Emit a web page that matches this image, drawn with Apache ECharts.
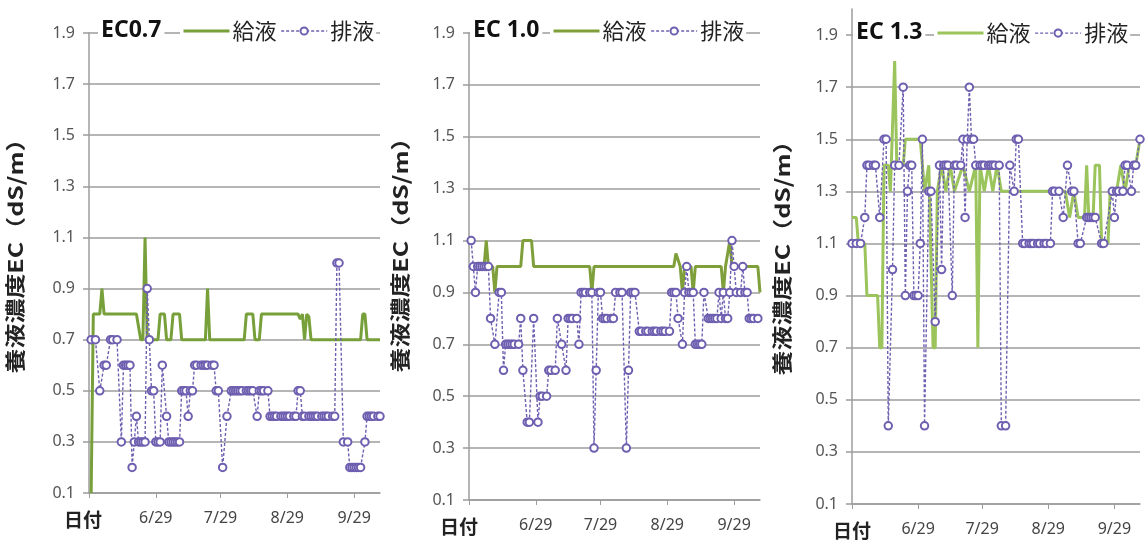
<!DOCTYPE html>
<html><head><meta charset="utf-8">
<script src="https://cdn.jsdelivr.net/npm/echarts@6/dist/echarts.min.js"></script>
<style>html,body{margin:0;padding:0;background:#fff}#c{width:1147px;height:550px}</style>
</head><body><div id="c"></div>
<script>
// ---- data (x = days after 5/29) ----
const tickDays = [0, 31, 61, 92, 123];
const tickLabels = ['日付', '6/29', '7/29', '8/29', '9/29'];
const yTicks = [0.1, 0.3, 0.5, 0.7, 0.9, 1.1, 1.3, 1.5, 1.7, 1.9];
const panelTitles = ['EC0.7', 'EC 1.0', 'EC 1.3'];
const seriesNames = ['給液', '排液'];
const yAxisName = '養液濃度EC（dS/m）';

// Panel 1 : EC0.7
const p1SupplyDays = [1,2,5,6,7,22,24,25,26,27,32,33,35,36,38,39,42,43,54,55,56,72,73,76,77,79,80,97,98,99,100,101,102,103,104,126,127,128,129,135];
const p1SupplyVals = [0.1,0.8,0.8,0.9,0.8,0.8,0.7,0.7,1.1,0.7,0.7,0.8,0.8,0.7,0.7,0.8,0.8,0.7,0.7,0.9,0.7,0.7,0.8,0.8,0.7,0.7,0.8,0.8,0.78,0.8,0.7,0.8,0.79,0.7,0.7,0.7,0.8,0.8,0.7,0.7];
const p1DrainDays = [1,3,5,7,8,10,11,13,15,16,17,18,19,20,21,22,23,24,25,26,27,28,29,30,31,32,33,34,36,37,38,39,40,41,42,43,44,45,46,47,48,49,50,52,53,54,55,57,58,59,60,62,64,66,67,68,69,70,71,73,74,75,76,78,79,80,81,83,84,85,86,87,89,90,91,92,93,95,96,97,98,99,100,102,103,104,105,106,108,109,110,111,113,114,115,116,118,120,121,122,123,124,125,126,128,129,130,131,132,134,135];
const p1DrainVals = [0.7,0.7,0.5,0.6,0.6,0.7,0.7,0.7,0.3,0.6,0.6,0.6,0.6,0.2,0.3,0.4,0.3,0.3,0.3,0.3,0.9,0.7,0.5,0.5,0.3,0.3,0.3,0.6,0.4,0.3,0.3,0.3,0.3,0.3,0.3,0.5,0.5,0.5,0.4,0.5,0.5,0.6,0.6,0.6,0.6,0.6,0.6,0.6,0.6,0.5,0.5,0.2,0.4,0.5,0.5,0.5,0.5,0.5,0.5,0.5,0.5,0.5,0.5,0.4,0.5,0.5,0.5,0.5,0.4,0.4,0.4,0.4,0.4,0.4,0.4,0.4,0.4,0.4,0.4,0.5,0.5,0.4,0.4,0.4,0.4,0.4,0.4,0.4,0.4,0.4,0.4,0.4,0.4,0.4,1.0,1.0,0.3,0.3,0.2,0.2,0.2,0.2,0.2,0.2,0.3,0.4,0.4,0.4,0.4,0.4,0.4];

// Panel 2 : EC 1.0
const p2SupplyDays = [0,7,8,9,11,12,13,24,25,29,30,56,57,58,95,96,98,99,100,103,104,105,117,118,119,121,122,134,135];
const p2SupplyVals = [1.0,1.0,1.1,1.0,1.0,0.9,1.0,1.0,1.1,1.1,1.0,1.0,0.9,1.0,1.0,1.05,1.0,0.9,1.0,1.0,0.9,1.0,1.0,0.9,1.0,1.1,1.0,1.0,0.9];
const p2DrainDays = [1,2,3,4,5,6,7,8,9,10,12,14,15,16,17,18,19,20,21,23,24,25,27,28,30,32,33,34,36,37,38,40,41,43,45,46,47,48,50,51,52,53,54,56,57,58,59,60,61,62,63,64,66,67,68,70,71,73,74,75,76,77,79,80,82,83,85,86,87,89,90,91,93,94,95,96,97,99,100,101,102,103,104,105,106,107,108,109,111,112,113,114,115,116,117,118,119,120,121,122,123,124,126,127,128,129,130,131,132,134];
const p2DrainVals = [1.1,1.0,0.9,1.0,1.0,1.0,1.0,1.0,1.0,0.8,0.7,0.9,0.9,0.6,0.7,0.7,0.7,0.7,0.7,0.7,0.8,0.6,0.4,0.4,0.8,0.4,0.5,0.5,0.5,0.6,0.6,0.6,0.8,0.7,0.6,0.8,0.8,0.8,0.8,0.7,0.9,0.9,0.9,0.9,0.9,0.3,0.6,0.9,0.9,0.8,0.8,0.8,0.8,0.8,0.9,0.9,0.9,0.3,0.6,0.9,0.9,0.9,0.75,0.75,0.75,0.75,0.75,0.75,0.75,0.75,0.75,0.75,0.75,0.9,0.9,0.9,0.8,0.7,0.9,1.0,0.9,0.9,0.9,0.7,0.7,0.7,0.7,0.9,0.8,0.8,0.8,0.8,0.8,0.9,0.8,0.9,0.8,0.8,0.9,1.1,1.0,0.9,0.9,1.0,0.9,0.9,0.8,0.8,0.8,0.8];

// Panel 3 : EC 1.3
const p3SupplyDays = [0,2,3,6,7,12,13,14,15,17,18,20,21,24,25,32,34,36,38,39,40,42,44,46,48,52,55,58,59,60,62,64,66,68,70,100,102,104,106,109,110,111,113,114,116,117,120,121,124,126,128,130,133,135];
const p3SupplyVals = [1.2,1.2,1.1,1.1,0.9,0.9,0.7,0.7,1.4,1.4,1.3,1.8,1.4,1.4,1.5,1.5,1.3,1.4,0.7,0.7,1.3,1.4,1.3,1.4,1.3,1.4,1.3,1.4,0.7,1.4,1.3,1.4,1.3,1.4,1.3,1.3,1.2,1.3,1.2,1.2,1.4,1.2,1.2,1.4,1.4,1.1,1.1,1.3,1.3,1.4,1.3,1.4,1.4,1.5];
const p3DrainDays = [0,2,4,6,7,8,10,11,13,15,16,17,19,20,22,24,25,26,27,28,29,30,31,32,33,34,36,37,39,41,42,43,44,45,47,48,49,51,52,53,54,55,56,57,58,60,61,62,64,65,66,67,69,70,72,74,76,77,78,80,81,83,84,85,87,88,90,91,93,94,95,97,99,101,103,104,106,107,110,111,112,113,114,117,118,122,123,124,125,127,128,129,131,132,133,135];
const p3DrainVals = [1.1,1.1,1.1,1.2,1.4,1.4,1.4,1.4,1.2,1.5,1.5,0.4,1.0,1.4,1.4,1.7,0.9,1.3,1.4,1.4,0.9,0.9,0.9,1.1,1.5,0.4,1.3,1.3,0.8,1.4,1.0,1.4,1.4,1.4,0.9,1.4,1.4,1.4,1.5,1.2,1.5,1.7,1.5,1.5,1.4,1.4,1.4,1.4,1.4,1.4,1.4,1.4,1.4,0.4,0.4,1.4,1.3,1.5,1.5,1.1,1.1,1.1,1.1,1.1,1.1,1.1,1.1,1.1,1.1,1.3,1.3,1.3,1.2,1.4,1.3,1.3,1.1,1.1,1.2,1.2,1.2,1.2,1.2,1.1,1.1,1.3,1.2,1.3,1.3,1.3,1.4,1.4,1.3,1.4,1.4,1.5];

// ---- build ----
function zip(a, b) { return a.map((d, i) => [d, b[i]]); }
const supplies = [zip(p1SupplyDays, p1SupplyVals), zip(p2SupplyDays, p2SupplyVals), zip(p3SupplyDays, p3SupplyVals)];
const drains = [zip(p1DrainDays, p1DrainVals), zip(p2DrainDays, p2DrainVals), zip(p3DrainDays, p3DrainVals)];

const FONT = '"Noto Sans", "Noto Sans CJK JP", sans-serif';
const CJK = '"Noto Sans CJK JP", sans-serif';
const GRID = '#9c9c9c';
const PURPLE = '#6f5fb0';

const panels = [
  { left: 89,  top: 33, width: 291, height: 460, ymax: 1.9, green: '#78a03a', titleX: 98,  legendX: 180, nameX: 15,  nameY: 250, dateShift: 12 },
  { left: 469, top: 33, width: 291, height: 467, ymax: 1.9, green: '#7e9f3a', titleX: 470, legendX: 550, nameX: 400, nameY: 249, dateShift: 20 },
  { left: 852, top: 9,  width: 288, height: 495, ymax: 2.0, green: '#9cc45c', titleX: 853, legendX: 934, nameX: 782, nameY: 252, dateShift: 0 }
];

const option = {
  animation: false,
  backgroundColor: '#fff',
  grid: [], xAxis: [], yAxis: [], series: [], title: [], legend: [], graphic: []
};

panels.forEach((p, i) => {
  const y19 = p.top + p.height * (p.ymax - 1.9) / (p.ymax - 0.1);
  option.grid.push({ left: p.left, top: p.top, width: p.width, height: p.height, containLabel: false });
  option.xAxis.push({
    type: 'value', gridIndex: i, min: 0, max: 135,
    splitLine: { show: false },
    axisLine: { show: true, lineStyle: { color: GRID, width: 1.5 } },
    axisTick: { show: true, customValues: tickDays, length: 5, lineStyle: { color: GRID } },
    axisLabel: {
      customValues: tickDays, margin: 17, fontSize: 16, color: '#444', fontFamily: FONT,
      formatter: (v) => {
        const k = tickDays.indexOf(Math.round(v));
        if (k === 0) return '{d|' + tickLabels[0] + '}';
        return k > 0 ? tickLabels[k] : '';
      },
      rich: { d: { fontSize: 19, fontWeight: 'bold', color: '#222', fontFamily: CJK, padding: [0, p.dateShift, 0, 0] } }
    }
  });
  option.yAxis.push({
    type: 'value', gridIndex: i, min: 0.1, max: p.ymax, interval: 0.2,
    axisLine: { show: true, lineStyle: { color: GRID, width: 1.5 } },
    axisTick: { show: true, customValues: yTicks, length: 6, lineStyle: { color: GRID, width: 1.5 } },
    splitLine: { show: true, showMaxLine: true, lineStyle: { color: GRID, width: 1.5 } },
    axisLabel: {
      customValues: yTicks, showMaxLabel: true,
      margin: 14, fontSize: 16, color: '#555', fontFamily: FONT,
      formatter: (v) => v.toFixed(1)
    }
  });
  option.series.push({
    name: seriesNames[0], type: 'line', xAxisIndex: i, yAxisIndex: i,
    data: supplies[i], symbol: 'none', z: 2,
    lineStyle: { color: p.green, width: 3 }, itemStyle: { color: p.green }
  });
  option.series.push({
    name: seriesNames[1], type: 'line', xAxisIndex: i, yAxisIndex: i,
    data: drains[i], symbol: 'emptyCircle', symbolSize: 7.5, z: 3,
    lineStyle: { color: PURPLE, width: 1.4, type: [3, 2] },
    itemStyle: { color: PURPLE, borderColor: PURPLE, borderWidth: 1.3 }
  });
  option.title.push({
    text: panelTitles[i], left: p.titleX, top: y19 - 14, padding: [0, 3],
    backgroundColor: '#fff',
    textStyle: { fontSize: 23, fontWeight: 'bold', color: '#111', fontFamily: FONT }
  });
  option.legend.push({
    left: p.legendX, top: y19 - 13, padding: [0, 2], itemGap: 4, itemWidth: 46, itemHeight: 9,
    backgroundColor: '#fff', selectedMode: false,
    textStyle: { fontSize: 22, color: '#222', fontFamily: CJK, padding: [0, 0, 0, -2] },
    data: [
      { name: seriesNames[0], itemStyle: { color: p.green, opacity: 0 }, lineStyle: { color: p.green, width: 3, opacity: 1 } },
      { name: seriesNames[1], itemStyle: { color: PURPLE, borderColor: PURPLE, borderWidth: 1.2 }, lineStyle: { color: PURPLE, width: 1.3, type: [3, 2] } }
    ]
  });
  option.graphic.push({
    type: 'text', x: p.nameX, y: p.nameY, rotation: Math.PI / 2, scaleX: 1.25, scaleY: 1,
    style: { text: yAxisName, font: 'bold 20px "Noto Sans CJK JP", sans-serif', fill: '#222', textAlign: 'center', textVerticalAlign: 'middle' }
  });
});

const chart = echarts.init(document.getElementById('c'), null, { renderer: 'canvas' });
chart.setOption(option);
</script>
</body></html>
